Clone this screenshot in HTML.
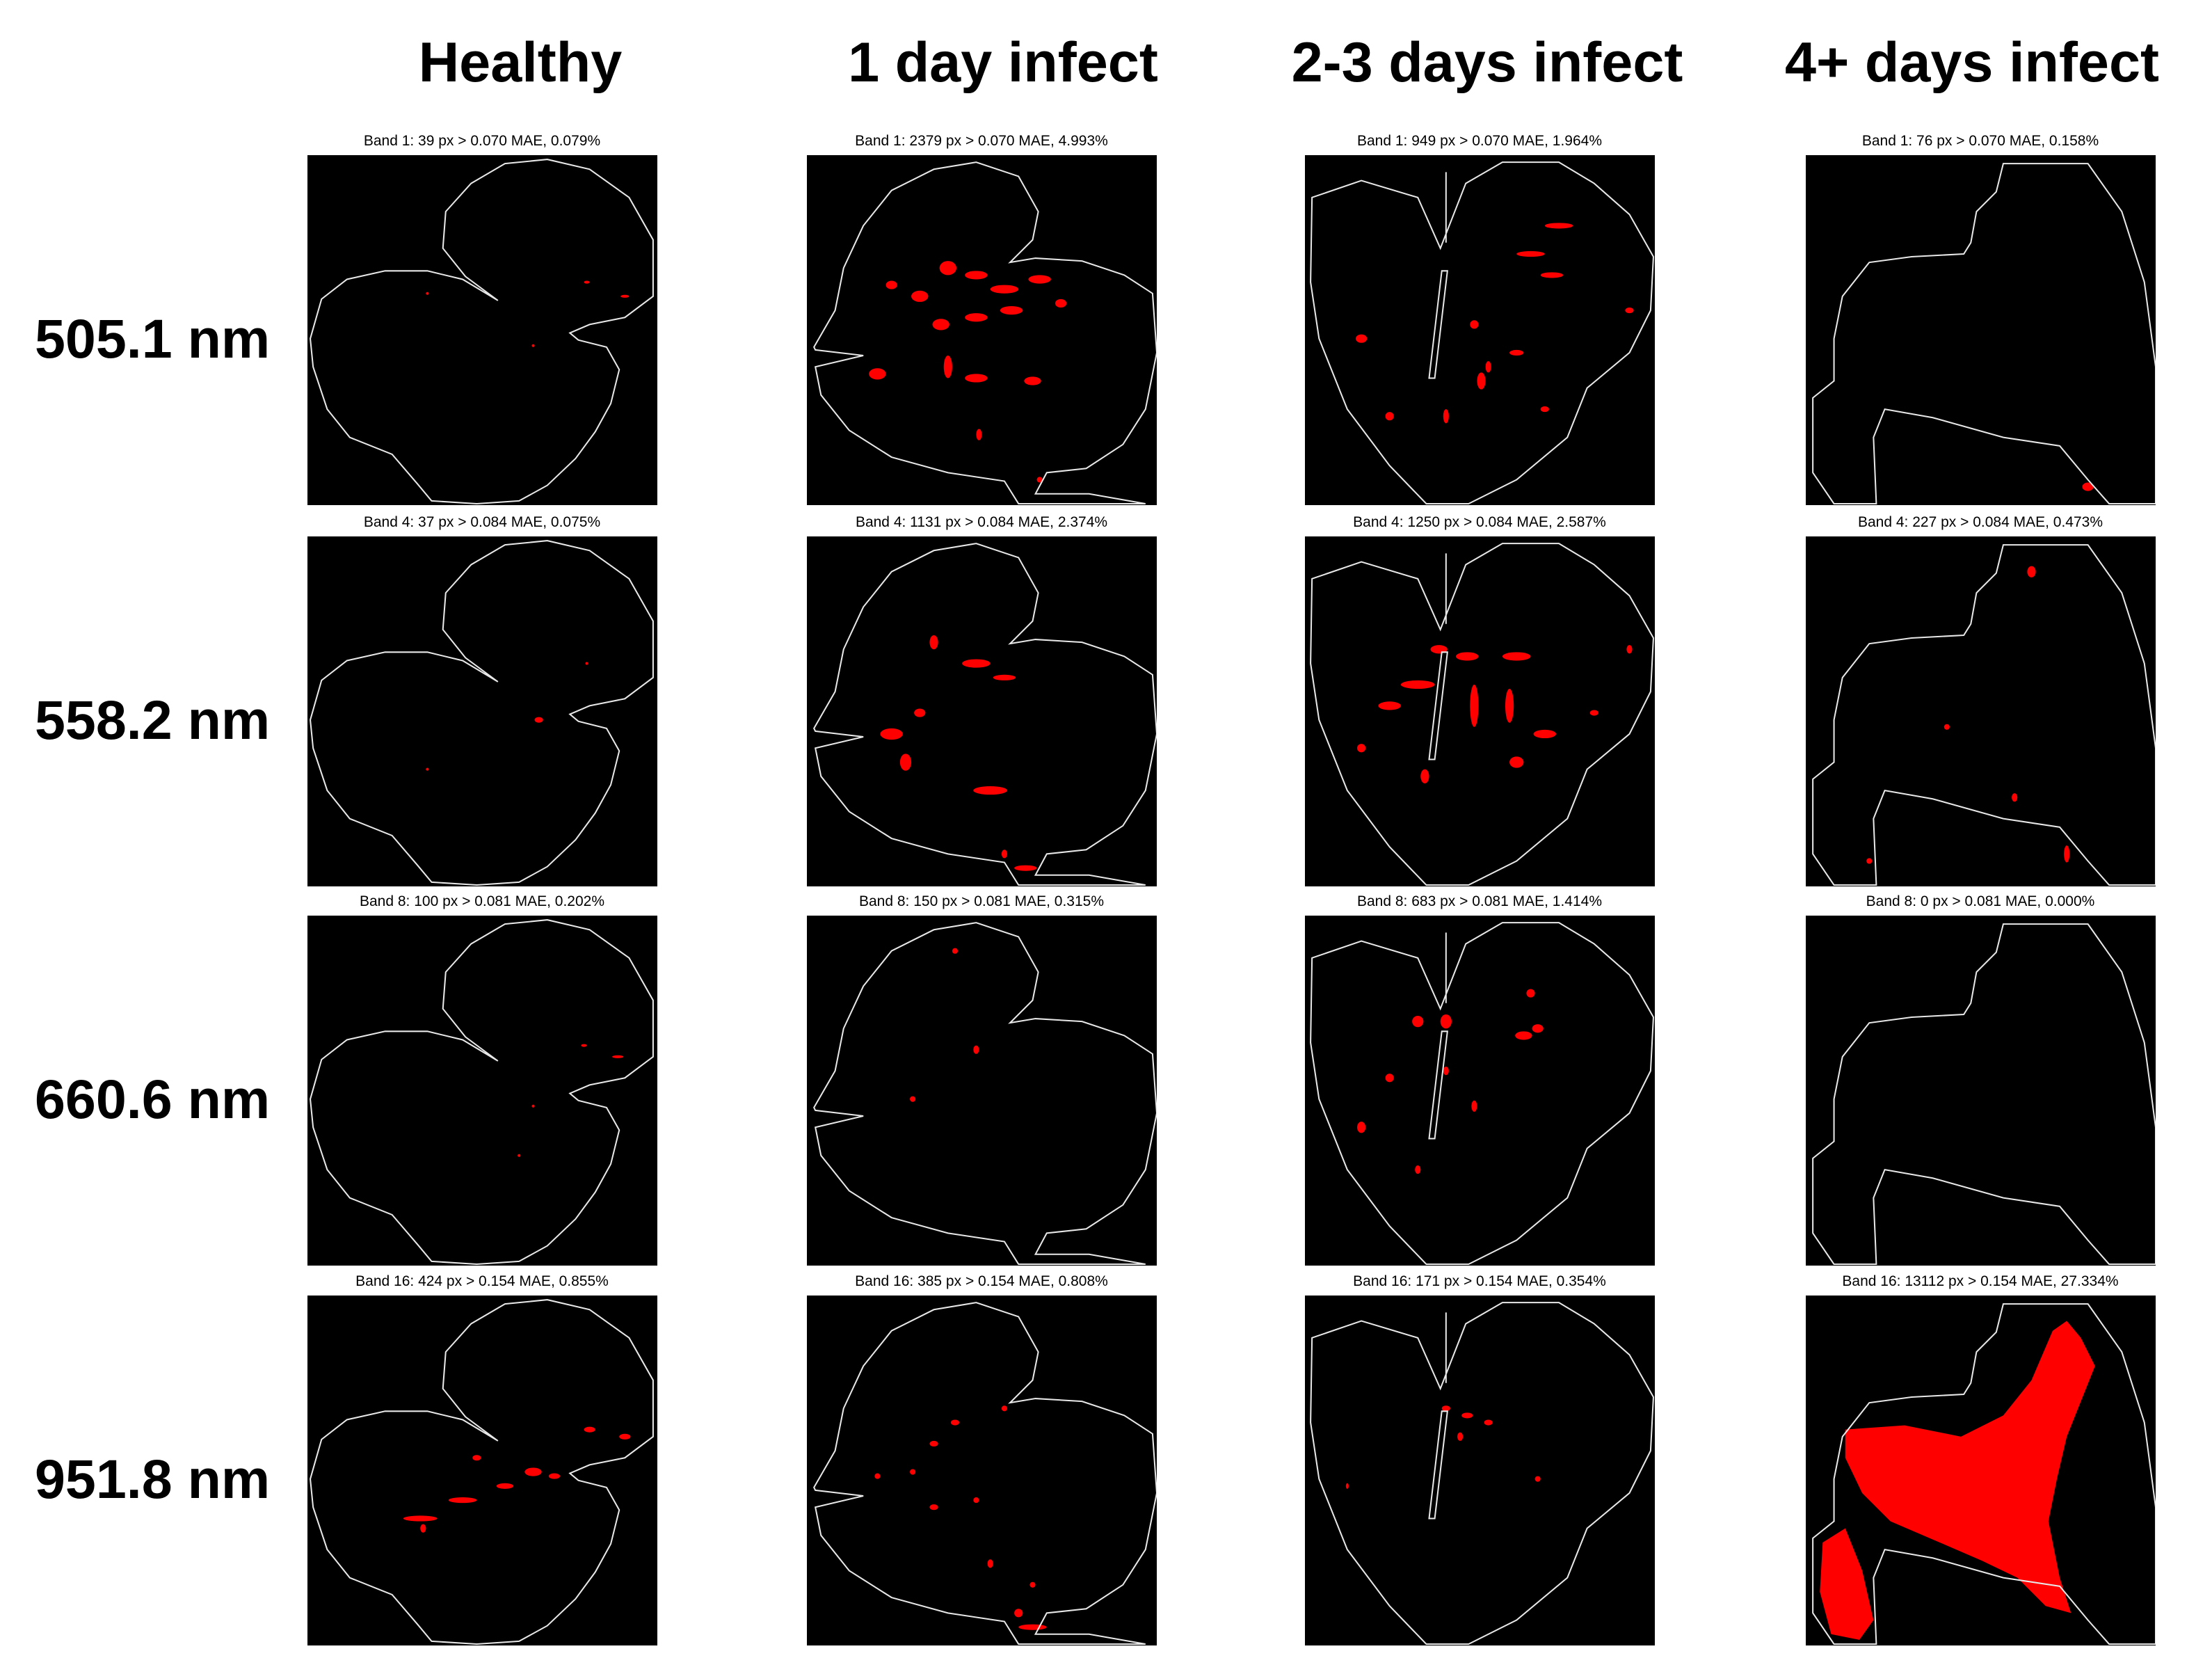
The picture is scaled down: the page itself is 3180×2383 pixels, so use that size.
<!DOCTYPE html>
<html><head><meta charset="utf-8">
<style>
html,body{margin:0;padding:0;background:#fff;}
body{width:3180px;height:2383px;position:relative;overflow:hidden;font-family:"Liberation Sans",sans-serif;}
.ct{position:absolute;top:44px;font-weight:bold;font-size:81px;text-align:center;width:800px;}
.rl{position:absolute;left:50px;font-weight:bold;font-size:79px;}
.st{position:absolute;font-size:21px;text-align:center;width:700px;}
svg.p{position:absolute;width:503px;height:503px;background:#000;}
</style></head><body>
<div id="root"></div>
<script>
const colTitles=["Healthy","1 day infect","2-3 days infect","4+ days infect"];
const rowLabels=["505.1 nm","558.2 nm","660.6 nm","951.8 nm"];
const colX=[442,1160,1876,2596];
const titleCX=[748,1442,2138,2835];
const rowY=[223,771,1316,1862];
const bands=["1","4","8","16"];
const thr=["0.070","0.084","0.081","0.154"];
const pxCounts=[[39,2379,949,76],[37,1131,1250,227],[100,150,683,0],[424,385,171,13112]];
const pcts=[["0.079","4.993","1.964","0.158"],["0.075","2.374","2.587","0.473"],["0.202","0.315","1.414","0.000"],["0.855","0.808","0.354","27.334"]];
const outlines=[
"M2,130 L10,102 L28,88 L55,82 L85,82 L110,88 L135,103 L112,86 L96,66 L98,40 L116,20 L140,6 L170,3 L200,10 L228,30 L245,60 L245,100 L225,115 L200,120 L186,126 L192,131 L212,136 L221,152 L215,176 L204,196 L190,215 L170,234 L150,245 L120,247 L88,245 L78,233 L60,212 L30,200 L14,180 L4,150 Z",
"M5,136 L20,110 L26,80 L40,50 L60,25 L90,10 L120,5 L150,15 L164,40 L160,60 L144,76 L162,73 L195,75 L225,85 L245,98 L248,140 L240,180 L224,205 L198,222 L170,225 L162,240 L200,240 L240,247 L150,247 L140,231 L100,225 L60,214 L30,195 L10,170 L6,150 L40,142 L6,138 Z",
"M5,30 L40,18 L80,30 L96,66 L114,20 L140,5 L180,5 L205,20 L230,42 L247,72 L245,110 L230,140 L200,165 L186,200 L150,230 L116,247 L86,247 L60,220 L30,180 L10,130 L4,90 Z M100,12 L100,62 M97,82 L88,158 L92,158 L101,82 Z",
"M20,160 L20,130 L26,100 L45,76 L75,72 L112,70 L117,62 L121,40 L135,26 L140,6 L200,6 L224,40 L240,90 L248,150 L248,247 L215,247 L200,230 L180,206 L140,200 L90,186 L56,180 L48,200 L50,247 L20,247 L5,225 L5,172 Z"];
// blobs per panel: [x,y,rx,ry]
const blobs=[
[[[198,90,2,1],[225,100,3,1],[85,98,1,1],[160,135,1,1]],
 [[100,80,6,5],[120,85,8,3],[140,95,10,3],[165,88,8,3],[80,100,6,4],[60,92,4,3],[145,110,8,3],[120,115,8,3],[95,120,6,4],[50,155,6,4],[120,158,8,3],[160,160,6,3],[100,150,3,8],[180,105,4,3],[122,198,2,4],[165,230,2,2]],
 [[180,50,10,2],[160,70,10,2],[175,85,8,2],[40,130,4,3],[120,120,3,3],[150,140,5,2],[125,160,3,6],[60,185,3,3],[100,185,2,5],[170,180,3,2],[130,150,2,4],[230,110,3,2]],
 [[200,235,4,3]]],
[[[164,130,3,2],[198,90,1,1],[85,165,1,1]],
 [[90,75,3,5],[120,90,10,3],[140,100,8,2],[80,125,4,3],[60,140,8,4],[130,180,12,3],[70,160,4,6],[155,235,8,2],[140,225,2,3]],
 [[95,80,6,3],[115,85,8,3],[150,85,10,3],[80,105,12,3],[60,120,8,3],[120,120,3,15],[145,120,3,12],[170,140,8,3],[40,150,3,3],[150,160,5,4],[85,170,3,5],[230,80,2,3],[205,125,3,2]],
 [[160,25,3,4],[100,135,2,2],[148,185,2,3],[185,225,2,6],[45,230,2,2]]],
[[[196,92,2,1],[220,100,4,1],[160,135,1,1],[150,170,1,1]],
 [[105,25,2,2],[120,95,2,3],[75,130,2,2]],
 [[80,75,4,4],[100,75,4,5],[160,55,3,3],[155,85,6,3],[165,80,4,3],[100,110,2,3],[60,115,3,3],[40,150,3,4],[120,135,2,4],[80,180,2,3]],
 []],
[[[80,158,12,2],[110,145,10,2],[140,135,6,2],[160,125,6,3],[175,128,4,2],[120,115,3,2],[200,95,4,2],[225,100,4,2],[82,165,2,3]],
 [[90,105,3,2],[105,90,3,2],[140,80,2,2],[75,125,2,2],[50,128,2,2],[90,150,3,2],[120,145,2,2],[130,190,2,3],[160,205,2,2],[160,235,10,2],[150,225,3,3]],
 [[100,80,3,2],[115,85,4,2],[130,90,3,2],[110,100,2,3],[30,135,1,2],[165,130,2,2]],
 []]];
const bigRed="M28,95 L70,92 L110,100 L140,85 L160,60 L175,25 L185,18 L195,30 L205,50 L195,75 L185,100 L178,130 L172,160 L180,200 L188,225 L170,220 L150,200 L125,188 L95,175 L60,160 L40,140 L28,115 Z M12,175 L28,165 L40,195 L48,230 L38,244 L18,240 L10,210 Z";
const root=document.getElementById('root');
let h='';
colTitles.forEach((t,c)=>{h+=`<div class="ct" style="left:${titleCX[c]-400}px">${t}</div>`;});
rowLabels.forEach((t,r)=>{h+=`<div class="rl" style="top:${rowY[r]+218}px">${t}</div>`;});
for(let r=0;r<4;r++)for(let c=0;c<4;c++){
 h+=`<div class="st" style="left:${colX[c]+251-350}px;top:${rowY[r]-32}px">Band ${bands[r]}: ${pxCounts[r][c]} px &gt; ${thr[r]} MAE, ${pcts[r][c]}%</div>`;
 let s=`<svg class="p" viewBox="0 0 248 248" style="left:${colX[c]}px;top:${rowY[r]}px">`;
 if(r===3&&c===3)s+=`<path d="${bigRed}" fill="#f00"/>`;
 (blobs[r][c]||[]).forEach(b=>{s+=`<ellipse cx="${b[0]}" cy="${b[1]}" rx="${b[2]}" ry="${b[3]}" fill="#f00"/>`;});
 s+=`<path d="${outlines[c]}" fill="none" stroke="#e8e8e8" stroke-width="1"/>`;
 s+='</svg>';h+=s;
}
root.innerHTML=h;
</script>
</body></html>
